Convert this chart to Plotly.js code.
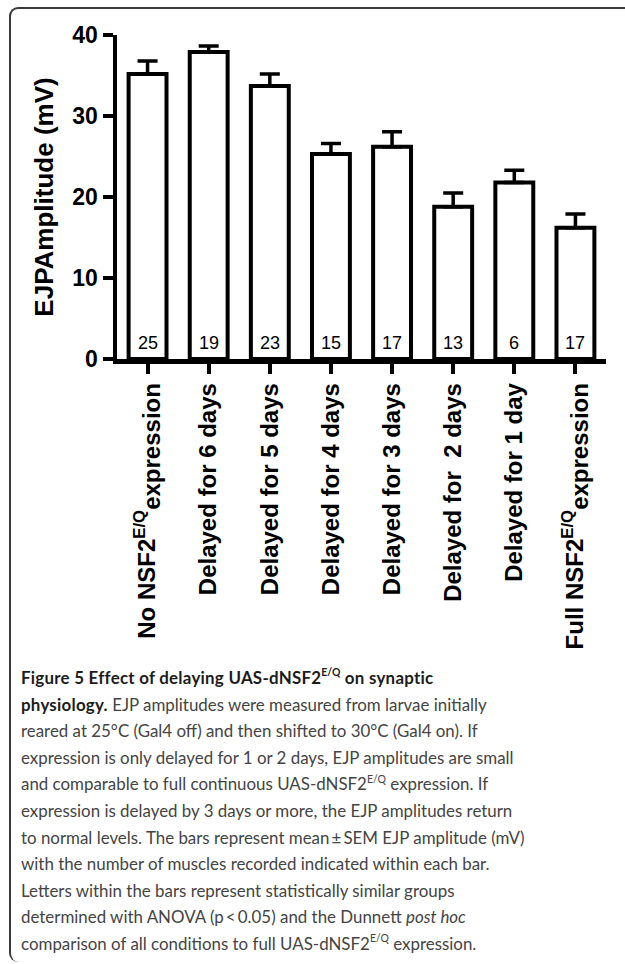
<!DOCTYPE html>
<html>
<head>
<meta charset="utf-8">
<script src="https://cdn.plot.ly/plotly-3.0.1.min.js"></script>
<style>
  html, body { margin:0; padding:0; background:#fff; }
  body { width:625px; height:964px; position:relative; overflow:hidden; }
  #frame { position:absolute; left:9px; top:7px; width:640px; height:953px;
           border-top:2px solid #3a3a3a; border-left:2px solid #3a3a3a;
           border-top-left-radius:9px; border-bottom-left-radius:9px; }
  #chart { position:absolute; left:0; top:0; width:625px; height:660px; }
  #cap { position:absolute; left:21px; top:665px; font-family:Lato, "Open Sans", sans-serif;
         font-size:16.9px; line-height:26.6px; color:#444444; white-space:nowrap; }
  #cap b { color:#1c1c1c; font-weight:700; letter-spacing:0.25px; }
  #cap sup { font-size:62%; line-height:0; vertical-align:0; position:relative; top:-0.75em; letter-spacing:0; }
</style>
</head>
<body>
<div id="frame"></div>
<div id="chart"></div>
<div id="cap">
<b>Figure 5 Effect of delaying UAS-dNSF2<sup>E/Q</sup> on synaptic</b><br>
<b>physiology.</b> EJP amplitudes were measured from larvae initially<br>
reared at 25°C (Gal4 off) and then shifted to 30°C (Gal4 on). If<br>
expression is only delayed for 1 or 2 days, EJP amplitudes are small<br>
and comparable to full continuous UAS-dNSF2<sup>E/Q</sup> expression. If<br>
expression is delayed by 3 days or more, the EJP amplitudes return<br>
to normal levels. The bars represent mean&thinsp;±&thinsp;SEM EJP amplitude (mV)<br>
with the number of muscles recorded indicated within each bar.<br>
Letters within the bars represent statistically similar groups<br>
determined with ANOVA (p&thinsp;&lt;&thinsp;0.05) and the Dunnett <i>post hoc</i><br>
comparison of all conditions to full UAS-dNSF2<sup>E/Q</sup> expression.
</div>
<script>
const categories = [
  'No NSF2<sup>E/Q</sup><sub><span style="font-size:24px">expression</span></sub>',
  'Delayed for 6 days',
  'Delayed for 5 days',
  'Delayed for 4 days',
  'Delayed for 3 days',
  'Delayed for \u00a02 days',
  'Delayed for 1 day',
  'Full NSF2<sup>E/Q</sup><sub><span style="font-size:24px">expression</span></sub>'
];
const meanAmplitude = [35.2, 37.9, 33.7, 25.3, 26.2, 18.8, 21.8, 16.2];
const semAmplitude  = [1.6, 0.75, 1.5, 1.3, 1.85, 1.7, 1.5, 1.7];
const nMuscles      = [25, 19, 23, 15, 17, 13, 6, 17];
const yTicks        = [0, 10, 20, 30, 40];

const FONT = 'Liberation Sans, Arial, sans-serif';

const trace = {
  type: 'bar',
  x: categories,
  y: meanAmplitude,
  width: 0.62,
  marker: { color: '#ffffff', line: { color: '#000000', width: 4 } },
  error_y: {
    type: 'data', symmetric: false,
    array: semAmplitude,
    arrayminus: semAmplitude.map(() => 0),
    color: '#000000', thickness: 3.5, width: 10
  },
  hoverinfo: 'skip'
};

const countLabels = nMuscles.map((n, i) => ({
  x: i, y: 0, xref: 'x', yref: 'y',
  text: String(n), showarrow: false,
  xanchor: 'center', yanchor: 'bottom', yshift: 4,
  font: { family: FONT, size: 18, color: '#000' }
}));

const layout = {
  width: 625, height: 660,
  margin: { l: 116.5, r: 19, t: 34.5, b: 300.8, pad: 0 },
  paper_bgcolor: 'rgba(0,0,0,0)',
  plot_bgcolor: 'rgba(0,0,0,0)',
  showlegend: false,
  bargap: 0,
  annotations: countLabels,
  xaxis: {
    type: 'category',
    range: [-0.5, 7.5],
    showline: true, linecolor: '#000', linewidth: 4.5,
    ticks: 'outside', ticklen: 10, tickwidth: 4, tickcolor: '#000',
    tickangle: -90,
    tickfont: { family: FONT, size: 24, color: '#000', weight: 'bold' },
    showgrid: false, zeroline: false, fixedrange: true
  },
  yaxis: {
    range: [0, 40],
    tickvals: yTicks,
    ticktext: yTicks.map(String),
    showline: true, linecolor: '#000', linewidth: 4.5,
    ticks: 'outside', ticklen: 10, tickwidth: 4, tickcolor: '#000',
    tickfont: { family: FONT, size: 23, color: '#000', weight: 'bold' },
    title: { text: 'EJPAmplitude (mV)', font: { family: FONT, size: 26, color: '#000', weight: 'bold' }, standoff: 12 },
    showgrid: false, zeroline: false, fixedrange: true
  }
};

Plotly.newPlot('chart', [trace], layout, { staticPlot: true, displayModeBar: false });
</script>
</body>
</html>
